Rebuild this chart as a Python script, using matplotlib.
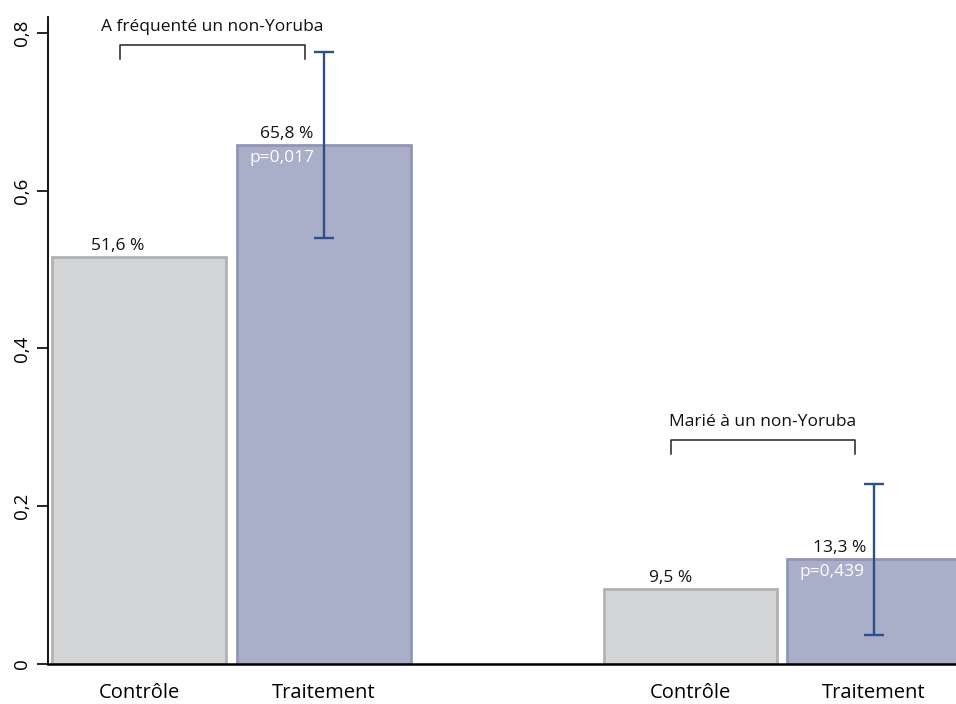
import matplotlib
matplotlib.use("Agg")
import matplotlib.pyplot as plt

# data
group_names = ["A fréquenté un non-Yoruba", "Marié à un non-Yoruba"]
bar_labels = ["Contrôle", "Traitement", "Contrôle", "Traitement"]
bar_values = [0.516, 0.658, 0.095, 0.133]
value_texts = ["51,6 %", "65,8 %", "9,5 %", "13,3 %"]
p_values = ["p=0,017", "p=0,439"]
ci_low = [0.540, 0.037]
ci_high = [0.776, 0.228]

# layout (in bar-width units)
positions = [0.511, 1.551, 3.61, 4.64]
bracket_spans = [(0.404, 1.444), (3.498, 4.534)]
bracket_tops = [0.785, 0.284]
bar_width = 1.0

plt.rcParams["font.family"] = ["Open Sans", "DejaVu Sans"]

fill_colors = ["#d3d4d6", "#a9aec9", "#d3d4d6", "#a9aec9"]
edge_colors = ["#b1b2b4", "#9196b5", "#b1b2b4", "#9196b5"]
err_color = "#2f4f88"

fig = plt.figure(figsize=(9.56, 7.04), dpi=100)
ax = fig.add_axes([48 / 956, 40 / 704, 908 / 956, 647 / 704])

ax.bar(
    positions,
    bar_values,
    width=bar_width - 0.025,
    color=fill_colors,
    edgecolor=edge_colors,
    linewidth=2.0,
    zorder=2,
)

treat_positions = [positions[1], positions[3]]
treat_values = [bar_values[1], bar_values[3]]
ax.errorbar(
    treat_positions,
    treat_values,
    yerr=[
        [v - lo for v, lo in zip(treat_values, ci_low)],
        [hi - v for v, hi in zip(treat_values, ci_high)],
    ],
    fmt="none",
    ecolor=err_color,
    elinewidth=1.7,
    capsize=7,
    capthick=1.7,
    zorder=3,
)

label_offsets = [-0.12, -0.21, -0.11, -0.19]
for pos, val, txt, off in zip(positions, bar_values, value_texts, label_offsets):
    ax.text(pos + off, val + 0.004, txt, ha="center", va="bottom",
            fontsize=12.5, color="#111111", zorder=4)

for pos, val, ptxt in zip(treat_positions, treat_values, p_values):
    ax.text(pos - 0.5 + 0.08, val - 0.006, ptxt, ha="left", va="top",
            fontsize=12.5, color="white", zorder=4)

for (x0, x1), top, name in zip(bracket_spans, bracket_tops, group_names):
    ax.plot([x0, x0, x1, x1], [top - 0.018, top, top, top - 0.018],
            color="#222222", linewidth=1.1, zorder=4)
    ax.text((x0 + x1) / 2, top + 0.012, name, ha="center", va="bottom",
            fontsize=12.5, color="#111111")

ax.set_xlim(0, 908 / 178)
ax.set_ylim(0, 0.82)

ax.set_xticks(positions)
ax.set_xticklabels(bar_labels, fontsize=14.5)
ax.tick_params(axis="x", length=0, pad=14)

y_ticks = [0, 0.2, 0.4, 0.6, 0.8]
ax.set_yticks(y_ticks)
ax.set_yticklabels(["0", "0,2", "0,4", "0,6", "0,8"], rotation=90,
                   va="center", fontsize=13.5)
ax.tick_params(axis="y", length=8, width=1.2, pad=4)

ax.spines["top"].set_visible(False)
ax.spines["right"].set_visible(False)
ax.spines["left"].set_linewidth(1.3)
ax.spines["bottom"].set_linewidth(1.8)
ax.spines["left"].set_bounds(0, 0.82)

fig.savefig("out.png", dpi=100)
